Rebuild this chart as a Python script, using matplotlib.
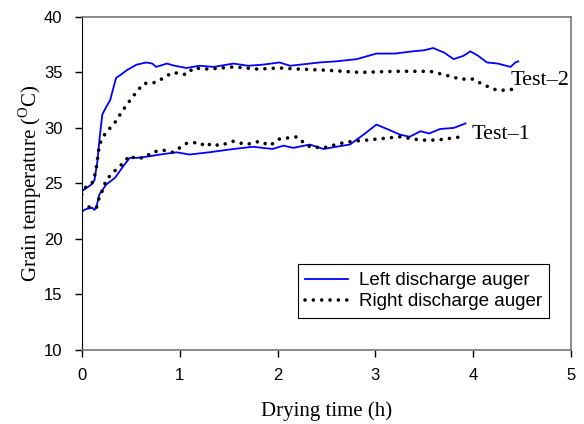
import matplotlib.pyplot as plt

plt.rcParams['mathtext.fontset'] = 'custom'
plt.rcParams['mathtext.rm'] = 'Liberation Serif'

# Test-2
t2_left = [0, 0.05, 0.1, 0.13, 0.16, 0.18, 0.21, 0.25, 0.29, 0.35, 0.4, 0.46, 0.56, 0.66, 0.72,
           0.76, 0.87, 0.95, 1.07, 1.2, 1.35, 1.55, 1.7, 1.85, 2.02, 2.13, 2.23, 2.43, 2.6, 2.81,
           3.01, 3.2, 3.38, 3.5, 3.59, 3.7, 3.80, 3.9, 3.97, 4.05, 4.14, 4.25, 4.38, 4.43, 4.46]
temp2_left = [24.3, 24.6, 24.9, 25.3, 27.0, 28.9, 31.2, 31.9, 32.5, 34.5, 34.8, 35.2, 35.7, 35.9, 35.8,
              35.5, 35.8, 35.6, 35.4, 35.6, 35.5, 35.8, 35.6, 35.7, 35.9, 35.6, 35.7, 35.9, 36.0, 36.2,
              36.7, 36.7, 36.9, 37.0, 37.2, 36.8, 36.2, 36.5, 36.9, 36.5, 35.9, 35.8, 35.5, 35.9, 36.0]

t2_right = [0, 0.03, 0.08, 0.12, 0.15, 0.18, 0.24, 0.34, 0.42, 0.52, 0.63, 0.76, 0.87, 0.93, 1.07,
            1.14, 1.3, 1.55, 1.8, 2.02, 2.23, 2.5, 2.84, 3.2, 3.56, 3.7, 3.87, 4.0, 4.10, 4.24,
            4.35, 4.41, 4.46]
temp2_right = [24.0, 24.6, 24.8, 25.2, 26.5, 28.5, 29.5, 30.5, 31.6, 32.8, 34.0, 34.1, 34.7, 35.0, 34.8,
               35.4, 35.3, 35.5, 35.3, 35.4, 35.3, 35.2, 35.0, 35.1, 35.1, 34.8, 34.4, 34.4, 33.9, 33.4,
               33.4, 33.5, 33.4]

# Test-1
t1_left = [0, 0.05, 0.11, 0.13, 0.15, 0.18, 0.25, 0.34, 0.42, 0.49, 0.56, 0.66, 0.8, 0.97, 1.1,
           1.3, 1.55, 1.75, 1.95, 2.06, 2.16, 2.33, 2.47, 2.6, 2.74, 2.88, 3.01, 3.12, 3.25, 3.35,
           3.46, 3.55, 3.66, 3.8, 3.92]
temp1_left = [22.5, 22.7, 22.8, 22.6, 22.9, 24.0, 24.9, 25.5, 26.5, 27.3, 27.3, 27.4, 27.6, 27.8, 27.6,
              27.8, 28.1, 28.3, 28.1, 28.4, 28.2, 28.5, 28.1, 28.3, 28.5, 29.4, 30.3, 29.9, 29.4, 29.2,
              29.7, 29.5, 29.9, 30.0, 30.4]

t1_right = [0, 0.08, 0.15, 0.17, 0.2, 0.25, 0.32, 0.42, 0.49, 0.56, 0.66, 0.71, 0.83, 0.93, 1.07,
            1.2, 1.27, 1.32, 1.41, 1.55, 1.68, 1.82, 1.92, 2.02, 2.2, 2.25, 2.33, 2.47, 2.64, 2.77,
            2.91, 3.25, 3.46, 3.63, 3.88]
temp1_right = [22.5, 22.9, 22.8, 23.5, 24.1, 25.3, 26.0, 26.8, 27.5, 27.2, 27.4, 27.8, 28.0, 27.8, 28.6,
               28.7, 28.3, 28.6, 28.4, 28.8, 28.5, 28.8, 28.4, 29.0, 29.2, 28.8, 28.3, 28.2, 28.6, 28.8,
               28.9, 29.2, 28.9, 28.9, 29.2]

fig = plt.figure(figsize=(5.84, 4.24), dpi=100)
ax = fig.add_axes([0.140, 0.175, 0.838, 0.785])

blue = '#0000ff'
dots = dict(color='black', linewidth=2.6, linestyle=(0, (0.01, 2.3)), dash_capstyle='round')

ax.plot(t2_left, temp2_left, color=blue, linewidth=1.3, label='Left discharge auger')
ax.plot(t2_right, temp2_right, label='Right discharge auger', **dots)
ax.plot(t1_left, temp1_left, color=blue, linewidth=1.3)
ax.plot(t1_right, temp1_right, **dots)

ax.text(4.38, 34.3, 'Test\u20132', family='Liberation Serif', fontsize=16, va='center', ha='left')
ax.text(3.98, 29.4, 'Test\u20131', family='Liberation Serif', fontsize=16, va='center', ha='left')

ax.set_xlim(0, 5)
ax.set_ylim(10, 40)
ax.set_xticks(range(0, 6))
ax.set_yticks(range(10, 45, 5))
ax.tick_params(direction='out', length=5, width=1, labelsize=12)
for lab in ax.get_xticklabels() + ax.get_yticklabels():
    lab.set_family('Liberation Sans')
ax.tick_params(axis='x', pad=8)
ax.tick_params(axis='y', pad=9)

ax.spines['left'].set_color('black')
for s in ['top', 'right', 'bottom']:
    ax.spines[s].set_color('#777777')
    ax.spines[s].set_linewidth(1.2)

ax.set_xlabel('Drying time (h)', family='Liberation Serif', fontsize=15, labelpad=13)
ax.set_ylabel(r'Grain temperature ($^{\mathrm{O}}$C)', family='Liberation Serif', fontsize=15, labelpad=0)

leg = ax.legend(loc='lower right', bbox_to_anchor=(0.955, 0.096), prop={'family': 'Liberation Sans', 'size': 13.5},
                fancybox=False, edgecolor='black', framealpha=1, handlelength=2.3, handletextpad=0.55,
                borderpad=0.4, labelspacing=0.22, borderaxespad=0)
leg.get_frame().set_linewidth(0.8)

fig.savefig('out.png', dpi=100)
